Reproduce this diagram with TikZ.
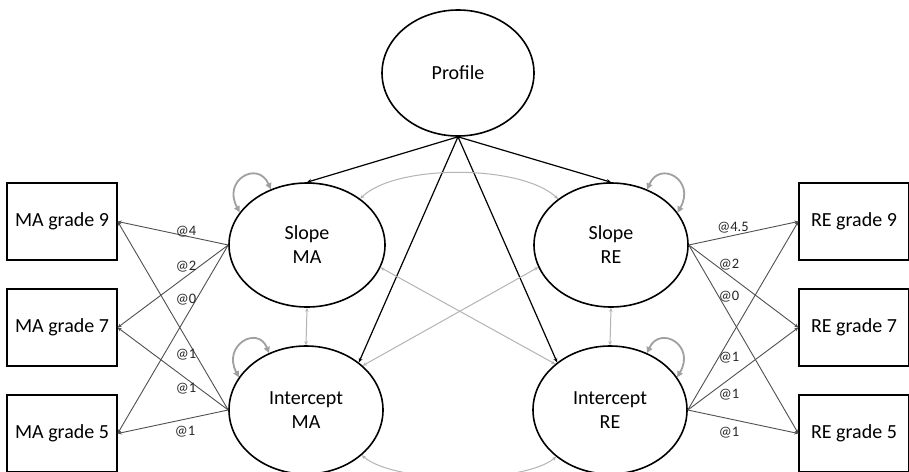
\documentclass[tikz,border=0pt]{standalone}
\usepackage{fontspec}
\setmainfont{Carlito}
\usetikzlibrary{shapes.geometric,arrows.meta}
\definecolor{pathgray}{HTML}{505050}
\definecolor{covgray}{HTML}{B4B4B4}
\definecolor{loopgray}{HTML}{A0A0A0}
\tikzset{
  latent/.style={ellipse,draw=black,line width=1.6pt,inner sep=0pt,align=center,
    font=\fontsize{20}{24}\selectfont},
  obsbox/.style={rectangle,draw=black,line width=1.3pt,minimum width=110pt,minimum height=77pt,inner sep=0pt,
    font=\fontsize{20}{24}\selectfont},
  load/.style={draw=pathgray,line width=0.9pt,-{Stealth[length=4pt,width=3.5pt]}},
  reg/.style={draw=black,line width=1.2pt,-{Stealth[length=4.5pt,width=4pt]}},
  cov/.style={draw=covgray,line width=1pt,{Stealth[length=4pt,width=3.5pt]}-{Stealth[length=4pt,width=3.5pt]}},
  varloop/.style={draw=loopgray,line width=1.8pt,{Triangle[length=6pt,width=6pt]}-{Triangle[length=6pt,width=6pt]}},
  lbl/.style={font=\fontsize{14.5}{16}\selectfont,text=black!85,inner sep=0pt}
}
\begin{document}
\begin{tikzpicture}[x=1pt,y=-1pt]
\useasboundingbox (0,0) rectangle (909,471);
\fill[white] (0,0) rectangle (909,471);
\clip (0,0) rectangle (909,471);

% latent variables
\node[latent,minimum width=152pt,minimum height=126pt] (prof) at (458,73) {Profile};
\node[latent,minimum width=156pt,minimum height=124pt] (sMA) at (307,245) {Slope\\MA};
\node[latent,minimum width=154pt,minimum height=128pt] (iMA) at (306,410) {Intercept\\MA};
\node[latent,minimum width=154pt,minimum height=124pt] (sRE) at (611,245) {Slope\\RE};
\node[latent,minimum width=154pt,minimum height=128pt] (iRE) at (610,410) {Intercept\\RE};

% observed variables
\node[obsbox] (ma9) at (62,221.5) {MA grade 9};
\node[obsbox] (ma7) at (62,327.5) {MA grade 7};
\node[obsbox] (ma5) at (62,433.5) {MA grade 5};
\node[obsbox] (re9) at (854,221.5) {RE grade 9};
\node[obsbox] (re7) at (854,327.5) {RE grade 7};
\node[obsbox] (re5) at (854,433.5) {RE grade 5};

% loadings MA
\draw[load] (sMA.west) -- (ma9.east);
\draw[load] (sMA.west) -- (ma7.east);
\draw[load] (sMA.west) -- (ma5.east);
\draw[load] (iMA.west) -- (ma9.east);
\draw[load] (iMA.west) -- (ma7.east);
\draw[load] (iMA.west) -- (ma5.east);
% loadings RE
\draw[load] (sRE.east) -- (re9.west);
\draw[load] (sRE.east) -- (re7.west);
\draw[load] (sRE.east) -- (re5.west);
\draw[load] (iRE.east) -- (re9.west);
\draw[load] (iRE.east) -- (re7.west);
\draw[load] (iRE.east) -- (re5.west);

% loading labels
\node[lbl] (l1) at (186,232) {@4};
\node[lbl] (l2) at (186,267) {@2};
\node[lbl] (l3) at (186,300) {@0};
\node[lbl] (l4) at (186,355) {@1};
\node[lbl] (l5) at (186,389) {@1};
\node[lbl] (l6) at (185,432) {@1};
\node[lbl] (r1) at (733,228) {@4.5};
\node[lbl] (r2) at (729,265) {@2};
\node[lbl] (r3) at (729,297) {@0};
\node[lbl] (r4) at (729,358) {@1};
\node[lbl] (r5) at (729,395) {@1};
\node[lbl] (r6) at (729,433) {@1};

% regressions from profile
\draw[reg] (prof.south) -- (sMA.north);
\draw[reg] (prof.south) -- (sRE.north);
\draw[reg] (prof.south) -- (iMA.42);
\draw[reg] (prof.south) -- (iRE.138);

% covariances
\draw[cov] (sMA.41) .. controls (395,164) and (521,164) .. (sRE.139);
\draw[cov] (iMA.-39) .. controls (395,484) and (523,484) .. (iRE.-139);
\draw[cov] (sMA.-17) -- (iRE.140);
\draw[cov] (sRE.-163) -- (iMA.38);
\draw[cov] (sMA.south) -- (iMA.north);
\draw[cov] (sRE.south) -- (iRE.north);

% variances
\draw[varloop] (sMA.154) .. controls (222,180) and (258,160) .. (sMA.123);
\draw[varloop] (iMA.154) .. controls (222,345) and (258,325) .. (iMA.123);
\draw[varloop] (sRE.57) .. controls (660,160) and (696,180) .. (sRE.26);
\draw[varloop] (iRE.57) .. controls (660,325) and (696,345) .. (iRE.26);
\end{tikzpicture}
\end{document}
